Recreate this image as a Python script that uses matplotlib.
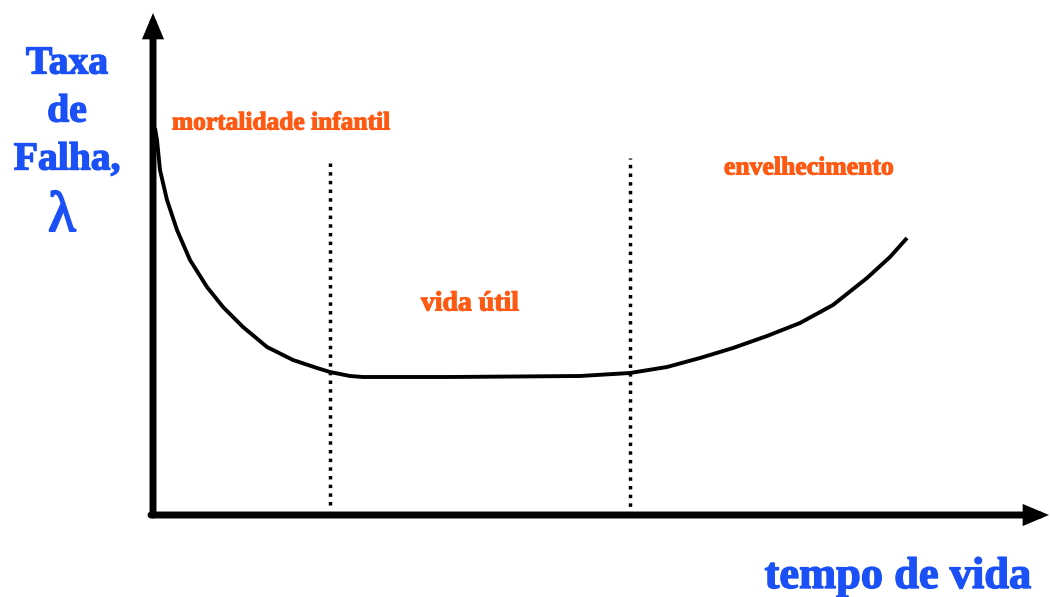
import matplotlib
matplotlib.use("Agg")
import matplotlib.pyplot as plt
import matplotlib.patheffects as pe

# Bathtub curve (time, failure rate)
tempo = [2, 4, 7, 14, 24, 37, 54, 70, 90, 114, 140, 164, 177, 197, 210, 297,
         427, 477, 514, 547, 580, 614, 647, 680, 714, 737, 754]
taxa = [387, 375, 345, 315, 285, 255, 228, 208, 188, 168, 155, 147, 143, 139, 138, 138,
        139, 142, 148, 157, 167, 179, 192, 210, 237, 258, 277]

# Phase boundaries (dotted lines)
limites = [177, 477]
limites_topo = [357, 357]
limites_base = [10, 0]

fases = ["mortalidade infantil", "vida útil", "envelhecimento"]
eixo_y = ["Taxa", "de", "Falha,"]
eixo_x = "tempo de vida"

W, H = 1050, 597
fig = plt.figure(figsize=(W / 100, H / 100), dpi=100)
ax = fig.add_axes([0, 0, 1, 1])
ax.set_xlim(-153, W - 153)
ax.set_ylim(515 - H, 515)
ax.axis("off")

blue = "#1a50f5"
orange = "#ff5a14"
serif = ["Liberation Serif", "DejaVu Serif"]


def bold_fx(color, w=0.8):
    return [pe.Stroke(linewidth=w, foreground=color), pe.Normal()]


# axes arrows
ax.annotate("", xy=(0, 502), xytext=(0, 0),
            arrowprops=dict(arrowstyle="-|>,head_length=1.0,head_width=0.42", lw=5, color="black",
                            shrinkA=0, shrinkB=0, joinstyle="miter"))
ax.annotate("", xy=(896, 0), xytext=(-2, 0),
            arrowprops=dict(arrowstyle="-|>,head_length=1.0,head_width=0.42", lw=5, color="black",
                            shrinkA=0, shrinkB=0, joinstyle="miter"))

# dotted phase lines
for x, t, b in zip(limites, limites_topo, limites_base):
    ax.plot([x, x], [b, t], color="black", lw=2.5, ls=(0, (1, 1.5)))

# curve
ax.plot(tempo, taxa, color="black", lw=2.8, solid_joinstyle="round", solid_capstyle="butt")

# phase labels
ax.text(19, 392, fases[0], color=orange, fontsize=18.3, fontweight="bold", family=serif,
        ha="left", va="center", path_effects=bold_fx(orange))
ax.text(317, 211, fases[1], color=orange, fontsize=20, fontweight="bold", family=serif,
        ha="center", va="center", path_effects=bold_fx(orange))
ax.text(656, 347, fases[2], color=orange, fontsize=18.5, fontweight="bold", family=serif,
        ha="center", va="center", path_effects=bold_fx(orange))

# y-axis label
for lbl, y in zip(eixo_y, [451, 403, 355]):
    ax.text(-86, y, lbl, color=blue, fontsize=28.5, fontweight="bold", family=serif,
            ha="center", va="center", path_effects=bold_fx(blue, 1.0))
ax.text(-91, 298, "λ", color=blue, fontsize=41, family=serif, ha="center", va="center",
        path_effects=bold_fx(blue, 1.5))

# x-axis label
ax.text(745, -62, eixo_x, color=blue, fontsize=32, fontweight="bold", family=serif,
        ha="center", va="center", path_effects=bold_fx(blue, 1.0))

fig.savefig("out.png", dpi=100)
